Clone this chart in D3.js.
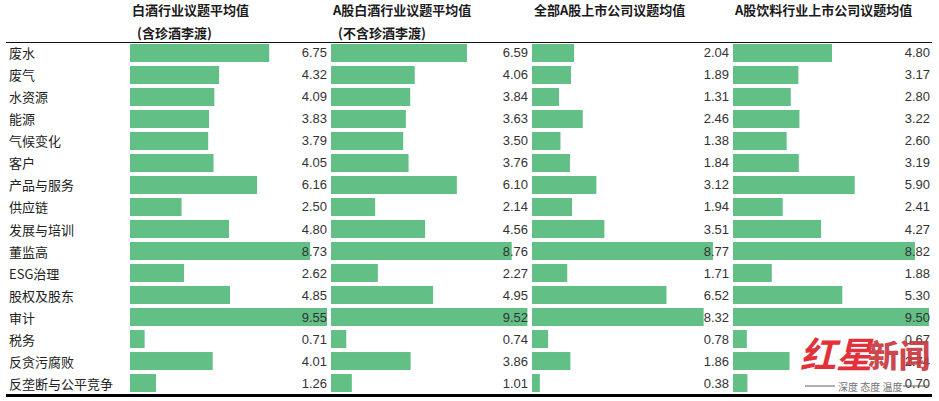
<!DOCTYPE html>
<html>
<head>
<meta charset="utf-8">
<script src="https://cdn.jsdelivr.net/npm/d3@7"></script>
<style>
    body { margin: 0; background: #fff; }
    svg { display: block; }
</style>
</head>
<body>
<div id="chart"></div>
<script>
const categories = ["废水", "废气", "水资源", "能源", "气候变化", "客户", "产品与服务", "供应链",
    "发展与培训", "董监高", "ESG治理", "股权及股东", "审计", "税务", "反贪污腐败", "反垄断与公平竞争"];

const baijiuAll = [6.75, 4.32, 4.09, 3.83, 3.79, 4.05, 6.16, 2.50, 4.80, 8.73, 2.62, 4.85, 9.55, 0.71, 4.01, 1.26];
const baijiuA = [6.59, 4.06, 3.84, 3.63, 3.50, 3.76, 6.10, 2.14, 4.56, 8.76, 2.27, 4.95, 9.52, 0.74, 3.86, 1.01];
const allA = [2.04, 1.89, 1.31, 2.46, 1.38, 1.84, 3.12, 1.94, 3.51, 8.77, 1.71, 6.52, 8.32, 0.78, 1.86, 0.38];
const beverageA = [4.80, 3.17, 2.80, 3.22, 2.60, 3.19, 5.90, 2.41, 4.27, 8.82, 1.88, 5.30, 9.50, 0.67, 2.74, 0.70];

const columnTitles = ["白酒行业议题平均值", "A股白酒行业议题平均值", "全部A股上市公司议题均值", "A股饮料行业上市公司议题均值"];
const columnSubtitles = ["(含珍酒李渡)", "(不含珍酒李渡)", "", ""];

const width = 939, height = 401;
const barColor = "#62c087";
const cjkFont = "'Noto Sans CJK SC', 'Noto Sans', sans-serif";
const numFont = "'Liberation Sans', Arial, sans-serif";

const columns = [baijiuAll, baijiuA, allA, beverageA];

const svg = d3.select("#chart")
    .append("svg")
    .attr("width", width)
    .attr("height", height);

const yScale = d3.scaleBand()
    .domain(categories)
    .range([42, 394])
    .paddingInner(0.182)
    .paddingOuter(0.09);

const colScale = d3.scaleBand()
    .domain(d3.range(columns.length))
    .range([130, 934]);

const xScale = d3.scaleLinear()
    .domain([0, 9.55])
    .range([0, 197]);

// header
columnTitles.forEach(function (title, i) {
    svg.append("text")
        .attr("x", colScale(i) + 2)
        .attr("y", 9)
        .attr("dominant-baseline", "central")
        .style("font-family", cjkFont)
        .style("font-size", "13px")
        .style("font-weight", "bold")
        .style("fill", "#1a1a1a")
        .text(title);

    if (columnSubtitles[i]) {
        svg.append("text")
            .attr("x", colScale(i) + 7)
            .attr("y", 32)
            .attr("dominant-baseline", "central")
            .style("font-family", cjkFont)
            .style("font-size", "13px")
            .style("font-weight", "bold")
            .style("fill", "#1a1a1a")
            .text(columnSubtitles[i]);
    }
});

svg.append("line")
    .attr("x1", 6).attr("x2", 932)
    .attr("y1", 42.5).attr("y2", 42.5)
    .style("stroke", "#111")
    .style("stroke-width", 1);

// row labels
svg.append("g")
    .selectAll("text")
    .data(categories)
    .join("text")
    .attr("x", 9)
    .attr("y", d => yScale(d) + yScale.bandwidth() / 2)
    .attr("dominant-baseline", "central")
    .style("font-family", cjkFont)
    .style("font-size", "13px")
    .style("fill", "#222")
    .text(d => d);

// bars and values, one group per column
columns.forEach(function (values, i) {
    const g = svg.append("g")
        .attr("transform", "translate(" + colScale(i) + ",0)");

    g.selectAll("rect")
        .data(values)
        .join("rect")
        .attr("x", 0)
        .attr("y", (d, j) => yScale(categories[j]))
        .attr("width", d => xScale(d))
        .attr("height", yScale.bandwidth())
        .style("fill", barColor);

    g.selectAll("text")
        .data(values)
        .join("text")
        .attr("x", xScale.range()[1])
        .attr("y", (d, j) => yScale(categories[j]) + yScale.bandwidth() / 2)
        .attr("text-anchor", "end")
        .attr("dominant-baseline", "central")
        .style("font-family", numFont)
        .style("font-size", "13px")
        .style("fill", "#333")
        .text(d => d.toFixed(2));
});

svg.append("line")
    .attr("x1", 6).attr("x2", 932)
    .attr("y1", 395.5).attr("y2", 395.5)
    .style("stroke", "#000")
    .style("stroke-width", 3);

// watermark
const mark = svg.append("g").style("opacity", 0.92);

mark.append("text")
    .attr("x", 800)
    .attr("y", 368)
    .style("font-family", cjkFont)
    .style("font-size", "36px")
    .style("font-style", "italic")
    .style("font-weight", "bold")
    .style("fill", "#e0202a")
    .text("红星");

mark.append("text")
    .attr("x", 868)
    .attr("y", 367)
    .style("font-family", cjkFont)
    .style("font-size", "31px")
    .style("font-weight", "900")
    .style("fill", "#c73a40")
    .text("新闻");

mark.append("line")
    .attr("x1", 805).attr("x2", 835)
    .attr("y1", 386).attr("y2", 386)
    .style("stroke", "#555")
    .style("stroke-width", 1);

mark.append("line")
    .attr("x1", 903).attr("x2", 929)
    .attr("y1", 386).attr("y2", 386)
    .style("stroke", "#555")
    .style("stroke-width", 1);

mark.append("text")
    .attr("x", 838)
    .attr("y", 386)
    .attr("dominant-baseline", "central")
    .style("font-family", cjkFont)
    .style("font-size", "10px")
    .style("fill", "#666")
    .text("深度 态度 温度");
</script>
</body>
</html>
